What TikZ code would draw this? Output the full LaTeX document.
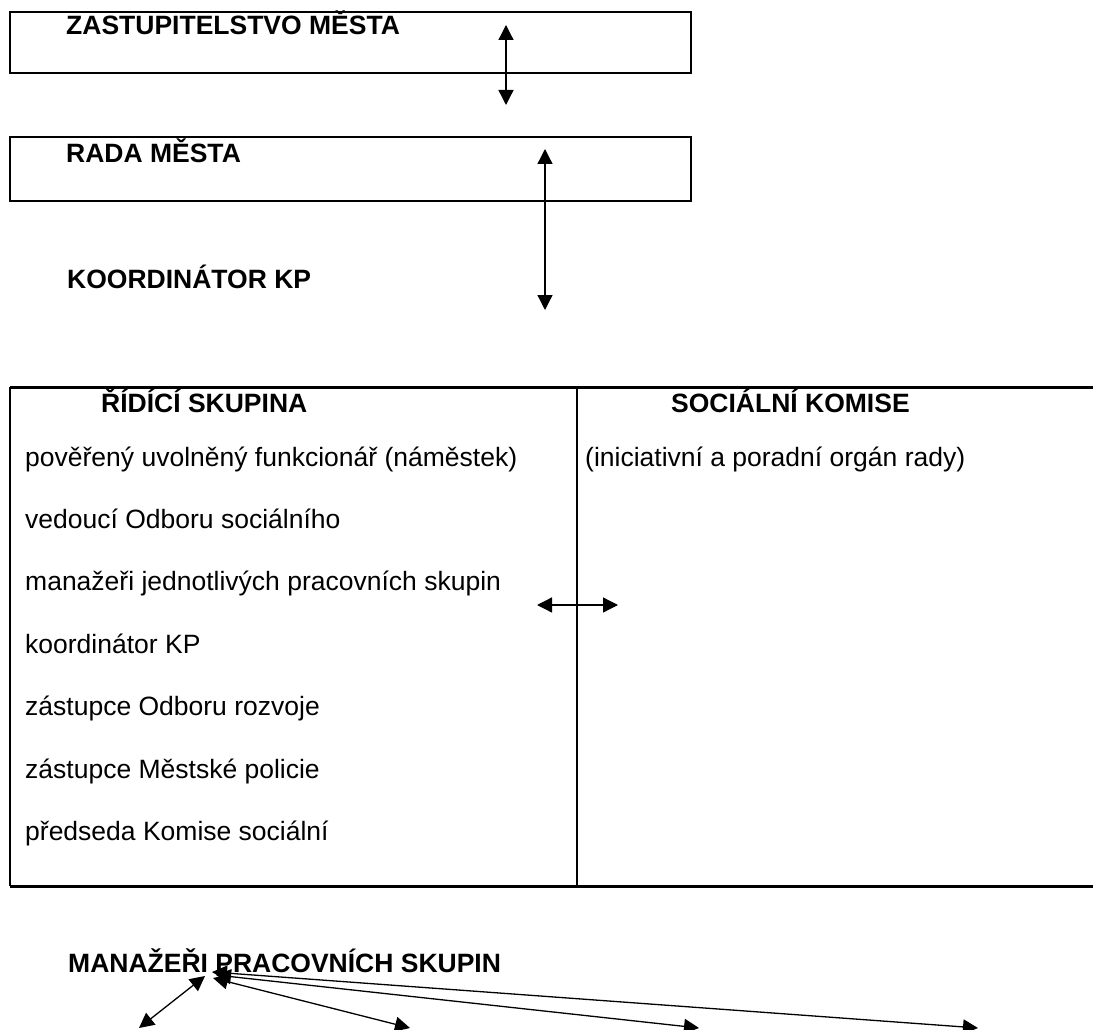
\documentclass[tikz,border=0pt]{standalone}
\usepackage{fontspec}
\setmainfont{Liberation Sans}
\usetikzlibrary{arrows.meta}
\def\rowh{62.4}
\def\rowtop{466}

\begin{document}
\begin{tikzpicture}[x=1pt, y=-1pt, font=\fontsize{26.5}{30}\selectfont,
  head/.style={font=\fontsize{26.5}{30}\selectfont\bfseries, anchor=base west, inner sep=0pt},
  item/.style={anchor=base west, inner sep=0pt},
  link/.style={{Triangle[length=15pt,width=15pt]}-{Triangle[length=15pt,width=15pt]}, line width=1.3pt}]
\useasboundingbox (0,0) rectangle (1093,1030);
% city bodies
\draw[line width=2pt] (10,12) rectangle (691,73);
\draw[line width=2pt] (10,137) rectangle (691,201);
\node[head] (zastup) at (66,35) {ZASTUPITELSTVO MĚSTA};
\node[head] (rada) at (66,163) {RADA MĚSTA};
\node[head] (koord) at (67,288) {KOORDINÁTOR KP};
\coordinate (za) at (506,25);
\coordinate (zb) at (506,105);
\coordinate (ra) at (545,149);
\coordinate (rb) at (545,310);
\draw[link] (za) -- (zb);
\draw[link] (ra) -- (rb);
% table: steering group / social commission
\draw[line width=3pt] (10,387) -- (1093,387);
\draw[line width=3pt] (10,886) -- (1093,886);
\draw[line width=2pt] (10,387) -- (10,886);
\draw[line width=1.5pt] (577,387) -- (577,886);
\node[head] (ridici) at (101,412) {ŘÍDÍCÍ SKUPINA};
\node[head] (komise) at (671,412) {SOCIÁLNÍ KOMISE};
\foreach \txt [count=\r from 0] in {
  pověřený uvolněný funkcionář (náměstek),
  vedoucí Odboru sociálního,
  manažeři jednotlivých pracovních skupin,
  koordinátor KP,
  zástupce Odboru rozvoje,
  zástupce Městské policie,
  předseda Komise sociální%
} {
  \node[item] (clen\r) at (25,{\rowtop+\r*\rowh}) {\txt};
}
\node[item] (organ) at (585,\rowtop) {(iniciativní a poradní orgán rady)};
\coordinate (ta) at (537,605);
\coordinate (tb) at (618,605);
\draw[link] (ta) -- (tb);
% work group managers
\node[head] (manazeri) at (68,972) {MANAŽEŘI PRACOVNÍCH SKUPIN};
\foreach \hx/\hy/\bx [count=\i] in {205/976/139, 213/978/410, 216/975/699, 212/972/978} {
  \coordinate (hub\i) at (\hx,\hy);
  \coordinate (sk\i) at (\bx,1028);
  \draw[link] (hub\i) -- (sk\i);
}
\end{tikzpicture}
\end{document}
